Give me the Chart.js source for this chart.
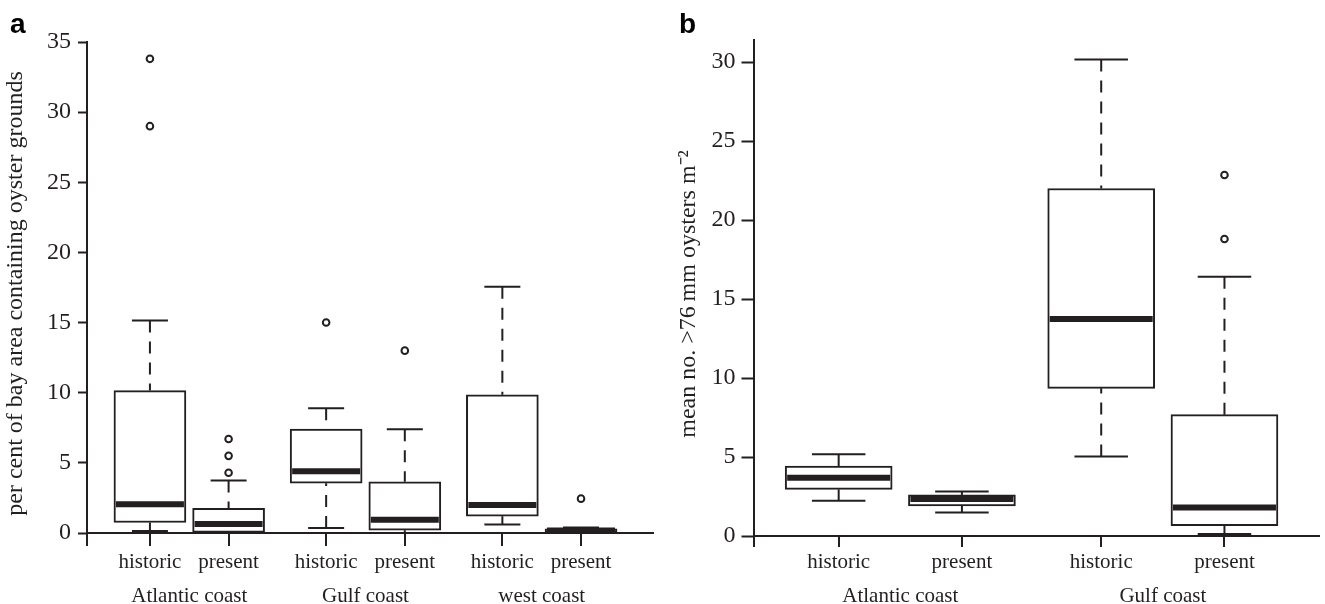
<!DOCTYPE html>
<html>
<head>
<meta charset="utf-8">
<title>Oyster grounds box plots</title>
<script src="https://cdn.jsdelivr.net/npm/chart.js@4.4.0/dist/chart.umd.min.js"></script>
<style>
    html, body { margin: 0; padding: 0; background: #ffffff; }
    #wrap { position: relative; width: 1325px; height: 604px; overflow: hidden; }
    #chartA { position: absolute; left: 0; top: 0; }
    #chartB { position: absolute; left: 662px; top: 0; }
</style>
</head>
<body>
<div id="wrap">
    <canvas id="chartA" width="662" height="604"></canvas>
    <canvas id="chartB" width="663" height="604"></canvas>
</div>
<script>
// ---- panel a: per cent of bay area containing oyster grounds ----
var catsA = ["historic", "present", "historic", "present", "historic", "present"];
var groupsA = ["Atlantic coast", "Gulf coast", "west coast"];
var lowA = [0.15, 0.0, 0.35, 0.0, 0.6, 0.0];
var q1A = [0.75, 0.05, 3.55, 0.2, 1.2, 0.02];
var medA = [2.05, 0.65, 4.4, 0.95, 2.0, 0.18];
var q3A = [10.15, 1.75, 7.4, 3.65, 9.85, 0.3];
var highA = [15.15, 3.75, 8.9, 7.4, 17.55, 0.4];
var outA = [[33.8, 29.0], [6.7, 5.5, 4.3], [15.0], [13.0], [], [2.45]];
var yTicksA = [0, 5, 10, 15, 20, 25, 30, 35];

// ---- panel b: mean no. >76 mm oysters per m2 ----
var catsB = ["historic", "present", "historic", "present"];
var groupsB = ["Atlantic coast", "Gulf coast"];
var lowB = [2.23, 1.48, 5.04, 0.13];
var q1B = [2.95, 1.9, 9.35, 0.65];
var medB = [3.69, 2.34, 13.73, 1.81];
var q3B = [4.43, 2.6, 22.0, 7.68];
var highB = [5.17, 2.81, 30.17, 16.41];
var outB = [[], [], [], [22.85, 18.8]];
var yTicksB = [0, 5, 10, 15, 20, 25, 30];

var INK = "#231f20";
var SERIF = "'Liberation Serif', 'Times New Roman', serif";

// whiskers, caps and medians, placed through the chart's own scales
function boxParts(st) {
    return {
        id: "boxParts",
        afterDatasetsDraw: function (chart) {
            var ctx = chart.ctx;
            var xs = chart.scales.x;
            var ys = chart.scales.y;
            var bars = chart.getDatasetMeta(0).data;

            function seg(x1, y1, x2, y2) {
                ctx.beginPath();
                ctx.moveTo(x1, y1);
                ctx.lineTo(x2, y2);
                ctx.stroke();
            }

            ctx.save();
            ctx.strokeStyle = INK;
            ctx.lineCap = "butt";
            for (var i = 0; i < st.pos.length; i++) {
                var cx = xs.getPixelForValue(st.pos[i]);
                var w = bars[i].width;
                var yLo = ys.getPixelForValue(st.low[i]);
                var yQ1 = ys.getPixelForValue(st.q1[i]);
                var yMed = ys.getPixelForValue(st.med[i]);
                var yQ3 = ys.getPixelForValue(st.q3[i]);
                var yHi = ys.getPixelForValue(st.high[i]);

                ctx.lineWidth = 2;
                ctx.setLineDash([12, 9]);
                if (yHi < yQ3) seg(cx, yHi, cx, yQ3);
                if (yLo > yQ1) seg(cx, yLo, cx, yQ1);
                ctx.setLineDash([]);
                seg(cx - w / 4, yHi, cx + w / 4, yHi);
                seg(cx - w / 4, yLo, cx + w / 4, yLo);

                ctx.lineWidth = 6;
                seg(cx - w / 2 + 2, yMed, cx + w / 2 - 2, yMed);
            }
            ctx.restore();
        }
    };
}

function panelLetter(text, x, y) {
    return {
        id: "panelLetter",
        afterDraw: function (chart) {
            var ctx = chart.ctx;
            ctx.save();
            ctx.fillStyle = "#000000";
            ctx.font = "bold 28px 'Liberation Sans', Arial, sans-serif";
            ctx.textBaseline = "alphabetic";
            ctx.textAlign = "left";
            ctx.fillText(text, x, y);
            ctx.restore();
        }
    };
}

function boxChart(id, st, lay) {
    var boxes = st.pos.map(function (p, i) {
        return { x: p, y: [st.q1[i], st.q3[i]] };
    });
    var outliers = [];
    st.out.forEach(function (list, i) {
        list.forEach(function (v) {
            outliers.push({ x: st.pos[i], y: v });
        });
    });
    var groupPos = st.groups.map(function (g, k) {
        return (st.pos[2 * k] + st.pos[2 * k + 1]) / 2;
    });

    return new Chart(document.getElementById(id), {
        type: "bar",
        data: {
            datasets: [
                {
                    type: "bar",
                    data: boxes,
                    backgroundColor: "#ffffff",
                    borderColor: INK,
                    borderWidth: 2,
                    borderSkipped: false,
                    barThickness: lay.boxWidth,
                    xAxisID: "x",
                    yAxisID: "y"
                },
                {
                    type: "scatter",
                    data: outliers,
                    pointRadius: 3.3,
                    pointBorderWidth: 2,
                    pointBackgroundColor: "#ffffff",
                    pointBorderColor: INK,
                    xAxisID: "x",
                    yAxisID: "y"
                }
            ]
        },
        options: {
            responsive: false,
            animation: false,
            layout: { padding: { top: lay.padTop, right: lay.padRight, left: 0, bottom: 0 } },
            plugins: {
                legend: { display: false },
                tooltip: { enabled: false }
            },
            scales: {
                x: {
                    type: "linear",
                    position: "bottom",
                    weight: 0,
                    min: lay.xMin,
                    max: lay.xMax,
                    offset: false,
                    afterBuildTicks: function (sc) {
                        sc.ticks = [lay.xMin].concat(st.pos).map(function (v) { return { value: v }; });
                    },
                    afterFit: function (sc) { sc.height = lay.xHeight; },
                    ticks: {
                        autoSkip: false,
                        maxRotation: 0,
                        minRotation: 0,
                        padding: lay.xPad,
                        color: INK,
                        font: { family: SERIF, size: 21, lineHeight: 1.2 },
                        callback: function (v, i) { return i === 0 ? "" : st.cats[i - 1]; }
                    },
                    grid: {
                        offset: false,
                        drawOnChartArea: false,
                        drawTicks: true,
                        tickLength: lay.xTick,
                        tickWidth: 2,
                        tickColor: INK,
                        color: INK,
                        lineWidth: 2
                    },
                    border: { display: true, color: INK, width: 2 }
                },
                x2: {
                    type: "linear",
                    position: "bottom",
                    weight: 1,
                    min: lay.xMin,
                    max: lay.xMax,
                    offset: false,
                    afterBuildTicks: function (sc) {
                        sc.ticks = groupPos.map(function (v) { return { value: v }; });
                    },
                    afterFit: function (sc) { sc.height = lay.x2Height; },
                    ticks: {
                        autoSkip: false,
                        maxRotation: 0,
                        minRotation: 0,
                        padding: lay.x2Pad,
                        color: INK,
                        font: { family: SERIF, size: 21, lineHeight: 1.2 },
                        callback: function (v, i) { return st.groups[i]; }
                    },
                    grid: { display: false, drawTicks: false },
                    border: { display: false }
                },
                y: {
                    type: "linear",
                    position: "left",
                    min: 0,
                    max: lay.yMax,
                    afterBuildTicks: function (sc) {
                        sc.ticks = st.yTicks.map(function (v) { return { value: v }; });
                    },
                    afterFit: function (sc) { sc.width = lay.yWidth; },
                    ticks: {
                        padding: lay.yPad,
                        color: INK,
                        font: { family: SERIF, size: 24 },
                        callback: function (v) { return String(v); }
                    },
                    grid: {
                        drawOnChartArea: false,
                        tickLength: lay.yTick,
                        tickWidth: 2,
                        tickColor: INK
                    },
                    border: { display: true, color: INK, width: 2 },
                    title: {
                        display: true,
                        // trailing spaces nudge the centred title slightly lower, as in the original
                        text: st.title + "  ",
                        color: INK,
                        font: { family: SERIF, size: 24, lineHeight: 1 },
                        padding: { top: lay.titlePad, bottom: 0 }
                    }
                }
            }
        },
        plugins: [boxParts(st), panelLetter(lay.letter, lay.letterX, 33)]
    });
}

boxChart("chartA", {
    cats: catsA, groups: groupsA, yTicks: yTicksA,
    low: lowA, q1: q1A, med: medA, q3: q3A, high: highA, out: outA,
    pos: [1, 2, 3.24, 4.24, 5.48, 6.48],
    title: "per cent of bay area containing oyster grounds"
}, {
    letter: "a", letterX: 10,
    padTop: 42, padRight: 9,
    xMin: 0.2, xMax: 7.395, yMax: 35,
    boxWidth: 72, xTick: 13, xPad: 4, xHeight: 46, x2Pad: 5, x2Height: 25,
    yWidth: 87, yTick: 9, yPad: 7, titlePad: 4
});

boxChart("chartB", {
    cats: catsB, groups: groupsB, yTicks: yTicksB,
    low: lowB, q1: q1B, med: medB, q3: q3B, high: highB, out: outB,
    pos: [1, 2, 3.13, 4.13],
    title: "mean no. >76\u2009mm oysters m\u207B\u00B2"
}, {
    letter: "b", letterX: 17,
    padTop: 40, padRight: 0,
    xMin: 0.309, xMax: 4.897, yMax: 31.4,
    boxWidth: 107, xTick: 11, xPad: 3, xHeight: 43, x2Pad: 5, x2Height: 25,
    yWidth: 91.5, yTick: 12, yPad: 6, titlePad: 15
});
</script>
</body>
</html>
